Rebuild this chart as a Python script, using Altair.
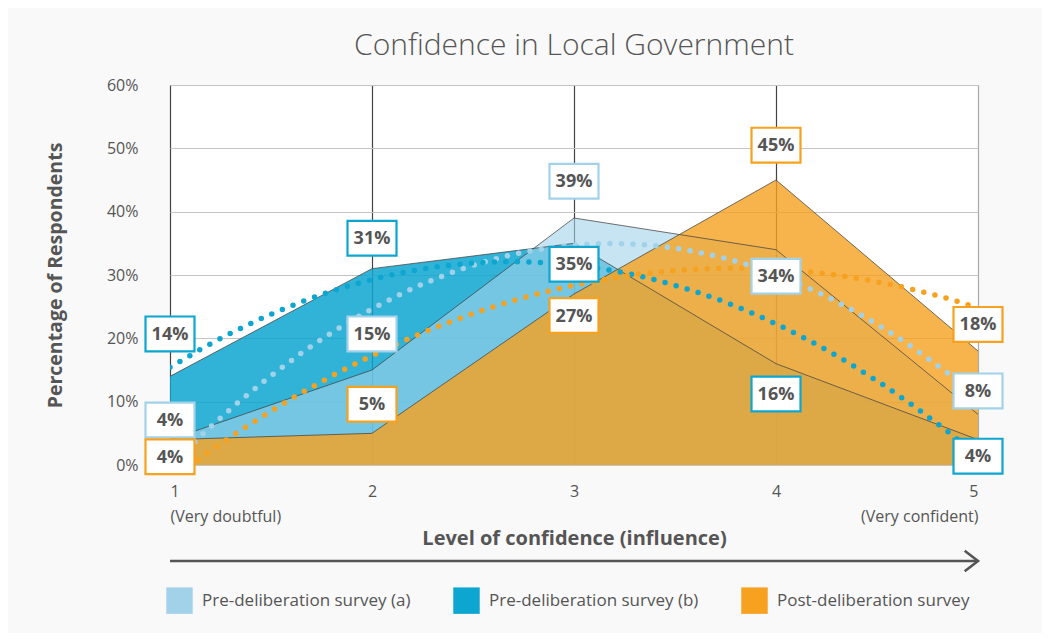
import altair as alt
import pandas as pd

# ---- data ----
levels = [1, 2, 3, 4, 5]
series_names = ["Pre-deliberation survey (a)", "Pre-deliberation survey (b)", "Post-deliberation survey"]
pre_a = [4, 15, 39, 34, 8]
pre_b = [14, 31, 35, 16, 4]
post = [4, 5, 27, 45, 18]
colors = ["#a2d2ea", "#0ca6d0", "#f6a11f"]

# label box anchor (in % units) for each series, kept separate from values
label_pos_a = [7.1, 20.7, 44.8, 29.8, 11.7]
label_pos_b = [20.7, 35.8, 31.7, 11.2, 1.4]
label_pos_post = [1.3, 9.6, 23.6, 50.5, 22.2]

rows = []
lab_rows = []
for name, vals, pos in zip(series_names, [pre_a, pre_b, post], [label_pos_a, label_pos_b, label_pos_post]):
    for lv, v, p in zip(levels, vals, pos):
        rows.append({"level": lv, "pct": v, "series": name})
        lab_rows.append({"level": lv, "pos": p, "text": f"{v}%", "series": name})
df = pd.DataFrame(rows)
labels_df = pd.DataFrame(lab_rows)
arrow_df = pd.DataFrame({"start": [levels[0]], "end": [levels[-1]]})

W, H = 808, 380
GREY = "#555555"
FONT = "Open Sans"

xscale = alt.Scale(domain=[1, 5], nice=False, zero=False)
yscale = alt.Scale(domain=[0, 60], nice=False)
fill_scale = alt.Scale(domain=series_names, range=colors)

x_axis = alt.Axis(
    values=levels,
    grid=True,
    gridColor=alt.condition("datum.value == 5", alt.value("#aaaaaa"), alt.value("#444444")),
    gridWidth=1.2,
    domain=False,
    ticks=False,
    labelFlush=True,
    labelExpr="datum.value == 1 ? ['1', '(Very doubtful)'] : datum.value == 5 ? ['5', '(Very confident)'] : datum.label",
    labelLineHeight=25,
    labelPadding=18,
    labelFont=FONT,
    labelFontSize=16,
    labelColor=GREY,
    title="Level of confidence (influence)",
    titleFont=FONT,
    titleFontSize=20,
    titleFontWeight="bold",
    titleColor=GREY,
    titleX=W / 2,
    titleY=73,
    titleBaseline="middle",
    titleAlign="center",
)
y_axis = alt.Axis(
    values=[0, 10, 20, 30, 40, 50, 60],
    grid=True,
    gridColor="#c4c4c4",
    gridWidth=1,
    domain=False,
    ticks=False,
    labelExpr="datum.value + '%'",
    labelPadding=32,
    labelFont=FONT,
    labelFontSize=16,
    labelColor=GREY,
    title="Percentage of Respondents",
    titleFont=FONT,
    titleFontSize=19.5,
    titleFontWeight="bold",
    titleColor=GREY,
    titleAngle=-90,
    titleX=-115,
    titleY=H / 2,
    titleAlign="center",
    titleBaseline="middle",
)


def X(field):
    return alt.X(field, type="quantitative", scale=xscale, axis=x_axis)


def Y(field):
    return alt.Y(field, type="quantitative", scale=yscale, axis=y_axis)


base = alt.Chart(df)
legend = alt.Legend(
    title=None,
    orient="none",
    legendX=-4,
    legendY=502,
    direction="horizontal",
    symbolType="square",
    symbolSize=700,
    symbolOpacity=1,
    symbolStrokeWidth=0,
    columnPadding=42,
    labelOffset=9,
    labelFont=FONT,
    labelFontSize=17,
    labelColor=GREY,
    labelLimit=400,
)


def area_layer(name, opacity):
    return base.transform_filter(alt.datum.series == name).mark_area(
        fillOpacity=opacity, stroke=None
    ).encode(
        x=X("level"),
        y=Y("pct"),
        fill=alt.Fill("series:N", scale=fill_scale, legend=legend),
    )


areas = alt.layer(
    area_layer(series_names[1], 0.85),
    area_layer(series_names[0], 0.6),
    area_layer(series_names[2], 0.8),
)

edges = base.mark_line(color="#444444", strokeWidth=0.9, opacity=0.85).encode(
    x=X("level"),
    y=Y("pct"),
    detail="series:N",
)

trends = base.transform_regression(
    "level", "pct", method="poly", order=2, groupby=["series"], extent=[1, 5]
).mark_line(
    strokeWidth=5.5, strokeCap="round", strokeDash=[0, 11.5], clip=True
).encode(
    x=X("level"),
    y=Y("pct"),
    stroke=alt.Stroke("series:N", scale=fill_scale, legend=None),
)

boxes = alt.Chart(labels_df).mark_point(
    shape="M-1,-0.71L1,-0.71L1,0.71L-1,0.71Z",
    size=2401,
    filled=False,
    fill="white",
    fillOpacity=1,
    strokeWidth=2.2,
    opacity=1,
).encode(
    x=X("level"),
    y=Y("pos"),
    stroke=alt.Stroke("series:N", scale=fill_scale, legend=None),
)

box_text = alt.Chart(labels_df).mark_text(
    font=FONT, fontSize=18, fontWeight="bold", color=GREY, baseline="middle", align="center", dy=1
).encode(
    x=X("level"),
    y=Y("pos"),
    text="text:N",
)

arrow_line = alt.Chart(arrow_df).mark_rule(color=GREY, strokeWidth=2.6).encode(
    x=X("start"),
    x2="end:Q",
    y=alt.value(H + 96),
)
arrow_head = alt.Chart(arrow_df).mark_point(
    shape="M-1.3,-1L0,0L-1.3,1",
    size=420,
    filled=False,
    color=GREY,
    strokeWidth=2.6,
    opacity=1,
).encode(
    x=X("end"),
    y=alt.value(H + 96),
)

chart = alt.layer(
    areas, edges, trends, boxes, box_text, arrow_line, arrow_head
).properties(
    width=W,
    height=H,
    title=alt.TitleParams(
        "Confidence in Local Government",
        font=FONT,
        fontSize=30,
        fontWeight=300,
        color=GREY,
        anchor="middle",
        frame="group",
        offset=16,
    ),
    background="#f9f9f9",
    padding={"left": 162, "top": 77, "right": 64, "bottom": 168},
    autosize=alt.AutoSizeParams(type="none"),
).configure_view(
    fill="white", stroke="#b0b0b0", strokeWidth=1
).resolve_scale(fill="shared", stroke="shared")

chart.save("out.html", embed_options={"renderer": "svg", "actions": False})
